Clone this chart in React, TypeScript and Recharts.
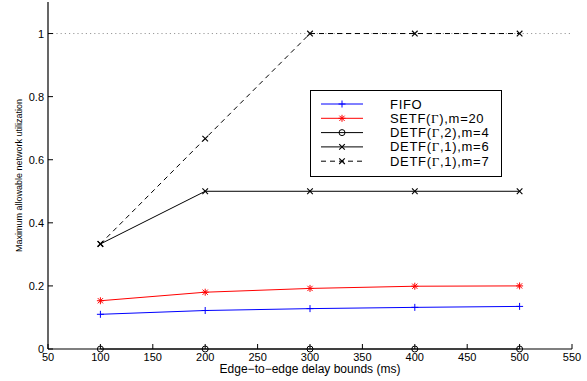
import React from "react";
import {
  Legend,
  Line,
  LineChart,
  ReferenceLine,
  XAxis,
  YAxis,
} from "recharts";

const delays = [100, 200, 300, 400, 500];
const fifo = [0.11, 0.122, 0.128, 0.132, 0.135];
const setf = [0.153, 0.18, 0.192, 0.199, 0.2];
const detf2m4 = [0, 0, 0, 0, 0];
const detf1m6 = [0.333, 0.5, 0.5, 0.5, 0.5];
const detf1m7 = [0.333, 0.667, 1, 1, 1];

const xTicks = [50, 100, 150, 200, 250, 300, 350, 400, 450, 500, 550];
const yTicks = [0, 0.2, 0.4, 0.6, 0.8, 1];
const yTickLabels = ["0", "0.2", "0.4", "0.6", "0.8", "1"];

const data = delays.map((d, i) => ({
  delay: d,
  fifo: fifo[i],
  setf: setf[i],
  detf2m4: detf2m4[i],
  detf1m6: detf1m6[i],
  detf1m7: detf1m7[i],
}));

const W = 587;
const H = 381;
const LEFT = 48;
const RIGHT = 572;
const TOP = 2;
const BOTTOM = 349;
const TICK = 5;
const FONT = "'Liberation Sans', Arial, Helvetica, sans-serif";

type Marker = "plus" | "star" | "circle" | "cross";

function markerShape(kind: Marker, cx: number, cy: number, color: string) {
  const s = 3.5;
  if (kind === "plus") {
    return (
      <g stroke={color} strokeWidth={1} fill="none">
        <line x1={cx - s} y1={cy} x2={cx + s} y2={cy} />
        <line x1={cx} y1={cy - s} x2={cx} y2={cy + s} />
      </g>
    );
  }
  if (kind === "star") {
    const d = s * 0.75;
    return (
      <g stroke={color} strokeWidth={1} fill="none">
        <line x1={cx - s} y1={cy} x2={cx + s} y2={cy} />
        <line x1={cx} y1={cy - s} x2={cx} y2={cy + s} />
        <line x1={cx - d} y1={cy - d} x2={cx + d} y2={cy + d} />
        <line x1={cx - d} y1={cy + d} x2={cx + d} y2={cy - d} />
      </g>
    );
  }
  if (kind === "circle") {
    return <circle cx={cx} cy={cy} r={3} stroke={color} strokeWidth={1} fill="none" />;
  }
  const d = 2.8;
  return (
    <g stroke={color} strokeWidth={1.1} fill="none">
      <line x1={cx - d} y1={cy - d} x2={cx + d} y2={cy + d} />
      <line x1={cx - d} y1={cy + d} x2={cx + d} y2={cy - d} />
    </g>
  );
}

const makeDot = (kind: Marker, color: string) => (props: any) => {
  const { cx, cy, index } = props;
  if (cx == null || cy == null) return <g key={`e-${index}`} />;
  return <g key={`${kind}-${index}`}>{markerShape(kind, cx, cy, color)}</g>;
};

const series = [
  { key: "fifo", name: "FIFO", color: "#0000ff", marker: "plus" as Marker, dash: undefined },
  { key: "setf", name: "SETF(Γ),m=20", color: "#ff0000", marker: "star" as Marker, dash: undefined },
  { key: "detf2m4", name: "DETF(Γ,2),m=4", color: "#000000", marker: "circle" as Marker, dash: undefined },
  { key: "detf1m6", name: "DETF(Γ,1),m=6", color: "#000000", marker: "cross" as Marker, dash: undefined },
  { key: "detf1m7", name: "DETF(Γ,1),m=7", color: "#000000", marker: "cross" as Marker, dash: "5 4" },
];

function Gamma({ text }: { text: string }) {
  const parts = text.split("Γ");
  return (
    <>
      {parts.map((p, i) => (
        <React.Fragment key={i}>
          <tspan>{p}</tspan>
          {i < parts.length - 1 && (
            <tspan fontFamily="'Liberation Serif', 'Times New Roman', serif">Γ</tspan>
          )}
        </React.Fragment>
      ))}
    </>
  );
}

function LegendBox() {
  return (
    <svg width={192} height={87} style={{ display: "block" }}>
      <rect x={0.5} y={0.5} width={191} height={86} fill="#fff" stroke="#000" strokeWidth={1} />
      {series.map((s, i) => {
        const y = 14 + i * 14.3;
        return (
          <g key={s.key}>
            <line
              x1={11}
              x2={53}
              y1={y}
              y2={y}
              stroke={s.color}
              strokeWidth={1}
              strokeDasharray={s.dash}
            />
            {markerShape(s.marker, 32, y, s.color)}
            <text
              x={80}
              y={y + 4.5}
              fontSize={13}
              letterSpacing={0.7}
              fontFamily={FONT}
              fill="#000"
            >
              <Gamma text={s.name} />
            </text>
          </g>
        );
      })}
    </svg>
  );
}

const BottomTick = (props: any) => {
  const { x, payload } = props;
  return (
    <g>
      <line x1={x} x2={x} y1={BOTTOM} y2={BOTTOM - TICK} stroke="#000" />
      <text x={x} y={BOTTOM + 12} textAnchor="middle" fontSize={11} fontFamily={FONT} fill="#000">
        {payload.value}
      </text>
    </g>
  );
};

const TopTick = (props: any) => {
  const { x } = props;
  return <line x1={x} x2={x} y1={TOP} y2={TOP + TICK} stroke="#000" />;
};

const LeftTick = (props: any) => {
  const { y, payload } = props;
  const idx = yTicks.indexOf(payload.value);
  return (
    <g>
      <line x1={LEFT} x2={LEFT + TICK} y1={y} y2={y} stroke="#000" />
      <text x={LEFT - 4} y={y + 4} textAnchor="end" fontSize={11} fontFamily={FONT} fill="#000">
        {idx >= 0 ? yTickLabels[idx] : payload.value}
      </text>
    </g>
  );
};

const RightTick = (props: any) => {
  const { y } = props;
  return <line x1={RIGHT} x2={RIGHT - TICK} y1={y} y2={y} stroke="#000" />;
};

export default function App() {
  return (
    <div style={{ position: "absolute", left: 0, top: 0, width: W, height: H, background: "#fff" }}>
      <LineChart
        width={W}
        height={H}
        data={data}
        margin={{ top: TOP, right: W - RIGHT, bottom: 2, left: 8 }}
      >
        <XAxis
          dataKey="delay"
          type="number"
          domain={[50, 550]}
          ticks={xTicks}
          interval={0}
          height={30}
          tickSize={0}
          tickMargin={0}
          tickLine={false}
          tick={<BottomTick />}
          axisLine={{ stroke: "#000", strokeWidth: 1.2 }}
          label={{
            value: "Edge\u2013to\u2013edge delay bounds (ms)",
            content: () => (
              <text
                x={(LEFT + RIGHT) / 2}
                y={373}
                textAnchor="middle"
                fontSize={12}
                fontFamily={FONT}
                fill="#000"
              >
                Edge−to−edge delay bounds (ms)
              </text>
            ),
          }}
        />
        <XAxis
          xAxisId="top"
          dataKey="delay"
          type="number"
          orientation="top"
          domain={[50, 550]}
          ticks={xTicks}
          interval={0}
          height={0}
          tickSize={0}
          tickMargin={0}
          tickLine={false}
          tick={<TopTick />}
          axisLine={{ stroke: "#000", strokeWidth: 1.2 }}
        />
        <YAxis
          type="number"
          domain={[0, 1.1]}
          ticks={yTicks}
          interval={0}
          width={40}
          tickSize={0}
          tickMargin={0}
          tickLine={false}
          tick={<LeftTick />}
          axisLine={{ stroke: "#000", strokeWidth: 1.2 }}
          label={{
            value: "Maximum allowable network utilization",
            content: () => (
              <text
                x={22}
                y={(TOP + BOTTOM) / 2}
                transform={`rotate(-90 22 ${(TOP + BOTTOM) / 2})`}
                textAnchor="middle"
                fontSize={9}
                fontFamily={FONT}
                fill="#000"
              >
                Maximum allowable network utilization
              </text>
            ),
          }}
        />
        <YAxis
          yAxisId="right"
          type="number"
          orientation="right"
          domain={[0, 1.1]}
          ticks={yTicks}
          interval={0}
          width={0}
          tickSize={0}
          tickMargin={0}
          tickLine={false}
          tick={<RightTick />}
          axisLine={{ stroke: "#000", strokeWidth: 1.2 }}
        />
        <ReferenceLine y={1} stroke="#999" strokeDasharray="1.2 3" strokeWidth={1} />
        {series.map((s) => (
          <Line
            key={s.key}
            dataKey={s.key}
            name={s.name}
            type="linear"
            stroke={s.color}
            strokeWidth={1}
            strokeDasharray={s.dash}
            dot={makeDot(s.marker, s.color)}
            activeDot={false}
            isAnimationActive={false}
          />
        ))}
        <Legend
          layout="vertical"
          align="center"
          verticalAlign="middle"
          content={() => <LegendBox />}
          wrapperStyle={{ position: "absolute", left: 310, top: 90, width: 192, height: 87 }}
        />
      </LineChart>
    </div>
  );
}
